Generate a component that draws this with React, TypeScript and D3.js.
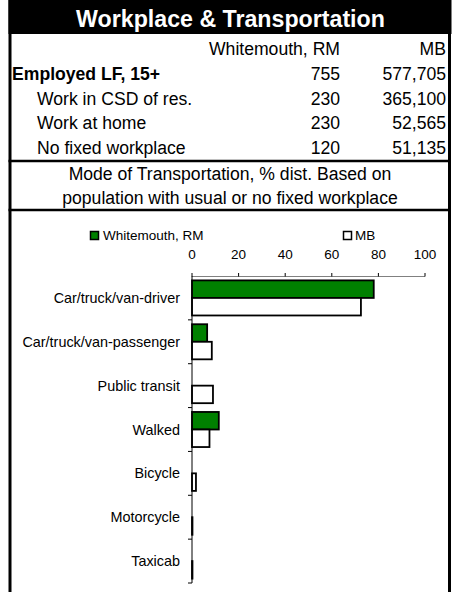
import React from 'react';
import * as d3 from 'd3';

// table values
const tableHeader = ['Whitemouth, RM', 'MB'];
const tableLabels = ['Employed LF, 15+', 'Work in CSD of res.', 'Work at home', 'No fixed workplace'];
const whitemouthCounts = ['755', '230', '230', '120'];
const mbCounts = ['577,705', '365,100', '52,565', '51,135'];

// chart values (% dist.)
const modes = [
  'Car/truck/van-driver',
  'Car/truck/van-passenger',
  'Public transit',
  'Walked',
  'Bicycle',
  'Motorcycle',
  'Taxicab',
];
const whitemouthPct = [78, 6.5, 0, 11.5, 0, 0, 0];
const mbPct = [72.5, 8.5, 9, 7.5, 1.7, 0.2, 0.2];
const xTicks = [0, 20, 40, 60, 80, 100];
const seriesNames = ['Whitemouth, RM', 'MB'];

const W = 459;
const H = 592;
const font = 'Arial, "Liberation Sans", sans-serif';

export default function App() {
  const x = d3.scaleLinear().domain([0, 100]).range([192, 425]);
  const y = d3.scaleBand().domain(modes).range([276, 583]).padding(0);
  const sub = d3
    .scaleBand()
    .domain(['wm', 'mb'])
    .range([0, y.bandwidth()])
    .paddingInner(0)
    .paddingOuter(0.25);

  const rowY = [80, 104.5, 129, 154];

  return (
    <svg
      width={W}
      height={H}
      style={{ position: 'absolute', left: 0, top: 0, background: '#fff' }}
      fontFamily={font}
    >
      {/* title band */}
      <rect x={8.5} y={0} width={443} height={34} fill="#000" />
      <text x={230.5} y={27} textAnchor="middle" fill="#fff" fontWeight="bold" fontSize={23.2}>
        Workplace &amp; Transportation
      </text>

      {/* borders */}
      <line x1={10} x2={10} y1={0} y2={H} stroke="#000" strokeWidth={3} />
      <line x1={449.5} x2={449.5} y1={0} y2={H} stroke="#000" strokeWidth={3} />
      <line x1={8.5} x2={451} y1={161} y2={161} stroke="#000" strokeWidth={2.5} />
      <line x1={8.5} x2={451} y1={210} y2={210} stroke="#000" strokeWidth={2.5} />

      {/* table */}
      <g fontSize={17.6} fill="#000">
        <text x={340} y={55} textAnchor="end">{tableHeader[0]}</text>
        <text x={446} y={55} textAnchor="end">{tableHeader[1]}</text>
        {tableLabels.map((lab, i) => (
          <g key={lab}>
            <text x={i === 0 ? 12 : 37} y={rowY[i]} fontWeight={i === 0 ? 'bold' : 'normal'}>
              {lab}
            </text>
            <text x={340} y={rowY[i]} textAnchor="end">{whitemouthCounts[i]}</text>
            <text x={446} y={rowY[i]} textAnchor="end">{mbCounts[i]}</text>
          </g>
        ))}
        <text x={230} y={180} textAnchor="middle">Mode of Transportation, % dist. Based on</text>
        <text x={230} y={204} textAnchor="middle">population with usual or no fixed workplace</text>
      </g>

      {/* legend */}
      <g fontSize={13.5}>
        <rect x={90.5} y={231.5} width={8} height={8} fill="#008000" stroke="#000" strokeWidth={1.5} />
        <text x={103} y={240}>{seriesNames[0]}</text>
        <rect x={343.5} y={231.5} width={8} height={8} fill="#fff" stroke="#000" strokeWidth={1.5} />
        <text x={355} y={240}>{seriesNames[1]}</text>
      </g>

      {/* top axis */}
      <g fontSize={13.5}>
        <line x1={x(0)} x2={x(100)} y1={276.5} y2={276.5} stroke="#808080" strokeWidth={1.2} />
        {xTicks.map((t) => (
          <g key={t}>
            <line x1={x(t)} x2={x(t)} y1={273} y2={276.5} stroke="#000" strokeWidth={1} />
            <text x={x(t)} y={259} textAnchor="middle">{t}</text>
          </g>
        ))}
      </g>

      {/* bars */}
      {modes.map((m, i) => (
        <g key={m} transform={`translate(0,${y(m)})`}>
          {whitemouthPct[i] > 0 && (
            <rect
              x={x(0)}
              y={sub('wm')}
              width={x(whitemouthPct[i]) - x(0)}
              height={sub.bandwidth()}
              fill="#008000"
              stroke="#000"
              strokeWidth={1.8}
            />
          )}
          {mbPct[i] > 0 && (
            <rect
              x={x(0)}
              y={sub('mb')}
              width={x(mbPct[i]) - x(0)}
              height={sub.bandwidth()}
              fill="#fff"
              stroke="#000"
              strokeWidth={1.8}
            />
          )}
        </g>
      ))}

      {/* category axis */}
      <line x1={x(0)} x2={x(0)} y1={276} y2={583} stroke="#000" strokeWidth={1} />
      {modes.map((m) => (
        <line key={m} x1={188} x2={x(0)} y1={(y(m) as number) + y.bandwidth()} y2={(y(m) as number) + y.bandwidth()} stroke="#000" />
      ))}
      <g fontSize={14.4} fill="#000">
        {modes.map((m) => (
          <text key={m} x={180} y={(y(m) as number) + y.bandwidth() / 2 + 5} textAnchor="end">
            {m}
          </text>
        ))}
      </g>
    </svg>
  );
}
